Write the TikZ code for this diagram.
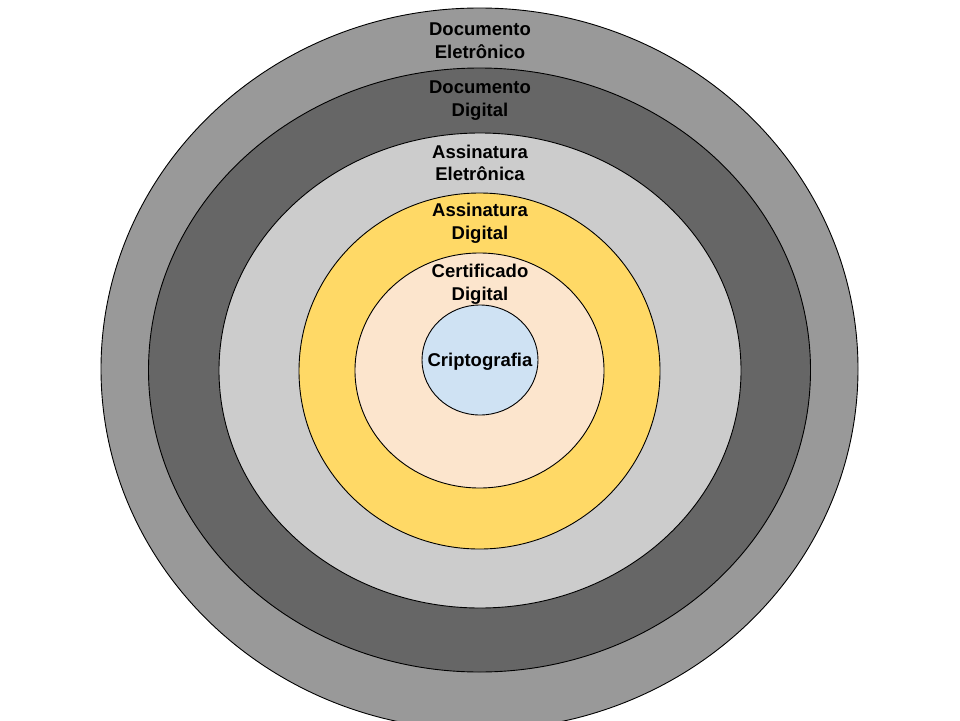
\documentclass[tikz,border=0pt]{standalone}
\usepackage{fontspec}
\setmainfont{Liberation Sans}
\begin{document}
\begin{tikzpicture}[x=1pt,y=-1pt,
  ring/.style={draw=black,line width=0.9pt},
  caption/.style={anchor=base,align=center,inner sep=0pt,
    font=\bfseries\fontsize{18.5}{22.4}\selectfont}]
  \definecolor{outergray}{HTML}{999999}
  \definecolor{darkgray}{HTML}{666666}
  \definecolor{lightgray}{HTML}{CCCCCC}
  \definecolor{gold}{HTML}{FFD966}
  \definecolor{peach}{HTML}{FCE5CD}
  \definecolor{paleblue}{HTML}{CFE2F3}
  \useasboundingbox (0,0) rectangle (960,720);
  \clip (0,0) rectangle (960,720);
  % concentric layers, outermost first
  \draw[ring,fill=outergray] (479.5,369) ellipse [x radius=378.5pt, y radius=361pt];
  \draw[ring,fill=darkgray]  (479.5,370) ellipse [x radius=331pt, y radius=302pt];
  \draw[ring,fill=lightgray] (480,370.5) ellipse [x radius=261pt, y radius=237.5pt];
  \draw[ring,fill=gold]      (479.5,371) ellipse [x radius=180.5pt, y radius=178pt];
  \draw[ring,fill=peach]     (479.5,370.5) ellipse [x radius=124.5pt, y radius=117.5pt];
  \draw[ring,fill=paleblue]  (480,360) ellipse [x radius=58pt, y radius=55pt];
  % layer captions (base anchor sits on the last line)
  \node[caption] (docel)  at (480,58.3) {Documento\\Eletrônico};
  \node[caption] (docdig) at (480,116)  {Documento\\Digital};
  \node[caption] (assel)  at (480,180.7) {Assinatura\\Eletrônica};
  \node[caption] (assdig) at (480,239)  {Assinatura\\Digital};
  \node[caption] (cert)   at (480,300)  {Certificado\\Digital};
  \node[caption] (cripto) at (480,366)  {Criptografia};
\end{tikzpicture}
\end{document}
